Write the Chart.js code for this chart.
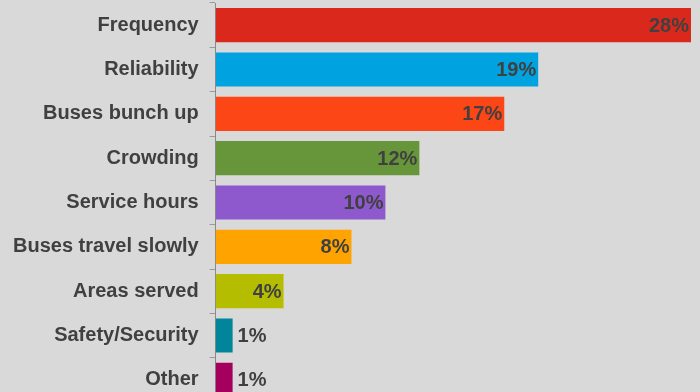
<!DOCTYPE html>
<html>
<head>
<meta charset="utf-8">
<script src="https://cdn.jsdelivr.net/npm/chart.js@4"></script>
<style>
  html, body { margin: 0; padding: 0; background: #d9d9d9; overflow: hidden; }
  canvas { display: block; }
</style>
</head>
<body>
<canvas id="grafico" width="700" height="402"></canvas>
<script>
const categorias = ['Frequency', 'Reliability', 'Buses bunch up', 'Crowding', 'Service hours',
  'Buses travel slowly', 'Areas served', 'Safety/Security', 'Other'];
const porcentajes = [28, 19, 17, 12, 10, 8, 4, 1, 1];
const colores = ['#da291c', '#00a3e0', '#fc4616', '#67963a', '#8e59cc',
  '#ffa300', '#b5bd00', '#00859b', '#a6005f'];

// etiquetas de valor al final de cada barra
const etiquetas = {
  id: 'etiquetas',
  afterDatasetsDraw(chart) {
    const ctx = chart.ctx;
    const meta = chart.getDatasetMeta(0);
    ctx.save();
    ctx.font = 'bold 20px "Liberation Sans", Arial, sans-serif';
    ctx.fillStyle = '#404040';
    ctx.textBaseline = 'middle';
    meta.data.forEach((bar, i) => {
      const texto = porcentajes[i] + '%';
      if (porcentajes[i] >= 3) {
        ctx.textAlign = 'right';
        ctx.fillText(texto, bar.x - 2, bar.y + 1);
      } else {
        ctx.textAlign = 'left';
        ctx.fillText(texto, bar.x + 5, bar.y + 1);
      }
    });
    ctx.restore();
  }
};

const ctx = document.getElementById('grafico').getContext('2d');
new Chart(ctx, {
  type: 'bar',
  data: {
    labels: categorias,
    datasets: [{
      data: porcentajes,
      backgroundColor: colores,
      borderWidth: 0,
      barPercentage: 0.77,
      categoryPercentage: 1
    }]
  },
  options: {
    indexAxis: 'y',
    responsive: false,
    animation: false,
    layout: { padding: { top: 3, right: 9, bottom: 0, left: 2 } },
    plugins: {
      legend: { display: false },
      tooltip: { enabled: false }
    },
    scales: {
      x: {
        display: false,
        min: 0,
        max: 28
      },
      y: {
        afterFit(scale) {
          scale.paddingTop = 0;
          scale.paddingBottom = 0;
        },
        grid: {
          offset: true,
          drawOnChartArea: false,
          tickLength: 6,
          color: '#9a9a9a'
        },
        border: { color: '#8a8a8a', width: 1 },
        ticks: {
          color: '#404040',
          padding: 11,
          font: { family: '"Liberation Sans", Arial, sans-serif', size: 20, weight: 'bold' }
        }
      }
    }
  },
  plugins: [etiquetas]
});
</script>
</body>
</html>
